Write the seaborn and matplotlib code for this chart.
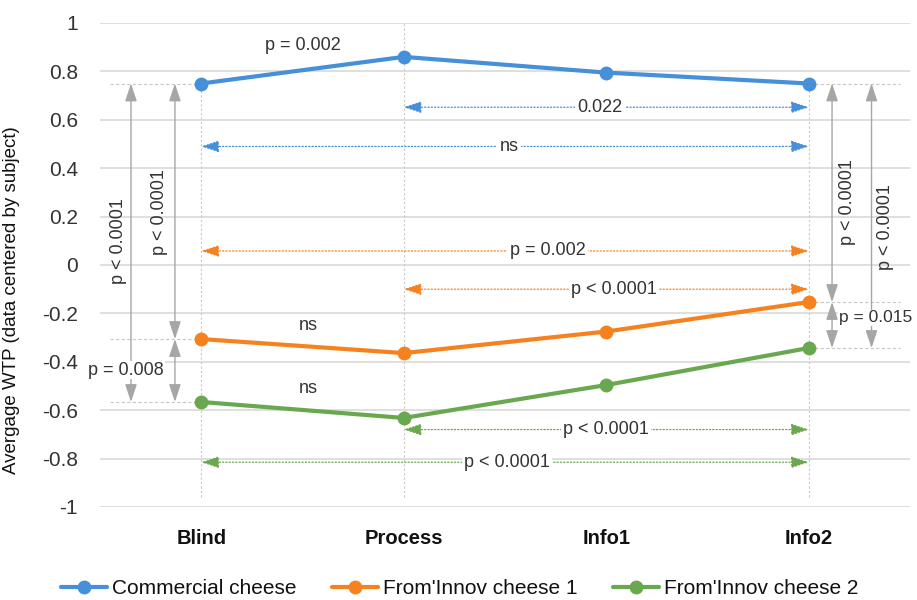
import matplotlib
matplotlib.use("Agg")
import matplotlib.pyplot as plt
import seaborn as sns
import pandas as pd

categories = ["Blind", "Process", "Info1", "Info2"]
commercial = [0.75, 0.86, 0.795, 0.75]
innov1 = [-0.306, -0.364, -0.275, -0.153]
innov2 = [-0.566, -0.632, -0.496, -0.343]
series_names = ["Commercial cheese", "From'Innov cheese 1", "From'Innov cheese 2"]
yticks = [1, 0.8, 0.6, 0.4, 0.2, 0, -0.2, -0.4, -0.6, -0.8, -1]
ytick_labels = ["1", "0.8", "0.6", "0.4", "0.2", "0", "-0.2", "-0.4", "-0.6", "-0.8", "-1"]

colors = ["#4590D8", "#F5821F", "#6AA84F"]
gray = "#A6A6A6"
tcol = "#333333"

rows = []
for name, vals in zip(series_names, [commercial, innov1, innov2]):
    for c, v in zip(categories, vals):
        rows.append({"Condition": c, "WTP": v, "Product": name})
df = pd.DataFrame(rows)

sns.set_theme(style="white")
plt.rcParams["font.family"] = ["Liberation Sans", "DejaVu Sans"]

fig = plt.figure(figsize=(9.17, 6.0), dpi=100)
ax = fig.add_axes([100 / 917, 1 - 507 / 600, 810 / 917, 484 / 600])

# gridlines
for t in yticks:
    ax.axhline(t, color="#D9D9D9", lw=1.2, zorder=0)

sns.lineplot(data=df, x="Condition", y="WTP", hue="Product", palette=colors,
             marker="o", markersize=10, markeredgewidth=0, linewidth=3,
             sort=False, ax=ax, zorder=5)

ax.set_xlim(-0.5, 3.5)
ax.set_ylim(-1, 1)
ax.set_yticks(yticks)
ax.set_yticklabels(ytick_labels, fontsize=15, color=tcol)
ax.tick_params(axis="y", pad=16, length=0)
ax.tick_params(axis="x", pad=16, length=0)
ax.set_xticks(range(len(categories)))
ax.set_xticklabels(categories, fontsize=14.5, fontweight="bold", color="#111111")
ax.set_xlabel("")
ax.set_ylabel("Avergage WTP (data centered by subject)", fontsize=13.5, color="#111111")
ax.yaxis.set_label_coords(20 / 917, 0.5, transform=fig.transFigure)
for s in ax.spines.values():
    s.set_visible(False)

# vertical dotted guides
guide = dict(color="#C8C8C8", lw=0.8, ls=(0, (2, 2)), zorder=1)
ax.vlines(0, -0.96, commercial[0], **guide)
ax.vlines(1, -0.96, 1.0, **guide)
ax.vlines(3, -0.96, commercial[3], **guide)

# horizontal dashed reference lines
ref = dict(color="#C8C8C8", lw=0.8, ls=(0, (3, 2)), zorder=1)
for v in [commercial[0], innov1[0], innov2[0]]:
    ax.hlines(v, -0.45, 0, **ref)
for v in [commercial[3], innov1[3], innov2[3]]:
    ax.hlines(v, 3, 3.45, **ref)


def harrow(x0, x1, y, color, label, lx):
    ax.annotate("", xy=(x0, y), xytext=(x1, y),
                arrowprops=dict(arrowstyle="<|-|>,head_length=0.9,head_width=0.3",
                                color=color, lw=0.9, ls=":", shrinkA=0, shrinkB=0),
                zorder=3)
    ax.text(lx, y, label, ha="center", va="center", fontsize=13, color=tcol,
            bbox=dict(facecolor="white", edgecolor="none", pad=1.5), zorder=4)


harrow(1, 3, 0.652, colors[0], "0.022", 1.97)
harrow(0, 3, 0.49, colors[0], "ns", 1.52)
harrow(0, 3, 0.058, colors[1], "p = 0.002", 1.71)
harrow(1, 3, -0.10, colors[1], "p < 0.0001", 2.04)
harrow(1, 3, -0.68, colors[2], "p < 0.0001", 2.0)
harrow(0, 3, -0.815, colors[2], "p < 0.0001", 1.51)


def varrow(x, y0, y1):
    ax.annotate("", xy=(x, y0), xytext=(x, y1),
                arrowprops=dict(arrowstyle="<|-|>,head_length=0.9,head_width=0.3",
                                color=gray, lw=1.0, shrinkA=0, shrinkB=0),
                zorder=3)


varrow(-0.347, commercial[0], innov2[0])
varrow(-0.13, commercial[0], innov1[0])
varrow(-0.13, innov1[0], innov2[0])
varrow(3.115, commercial[3], innov1[3])
varrow(3.31, commercial[3], innov2[3])
varrow(3.115, innov1[3], innov2[3])

txt = dict(fontsize=13, color=tcol)
ax.text(-0.41, 0.10, "p < 0.0001", rotation=90, ha="center", va="center", **txt)
ax.text(-0.204, 0.22, "p < 0.0001", rotation=90, ha="center", va="center", **txt)
ax.text(3.19, 0.26, "p < 0.0001", rotation=90, ha="center", va="center", **txt)
ax.text(3.38, 0.155, "p < 0.0001", rotation=90, ha="center", va="center", **txt)
ax.text(-0.37, -0.434, "p = 0.008", ha="center", va="center", zorder=4,
        bbox=dict(facecolor="white", edgecolor="none", pad=0.5), **txt)
ax.text(3.33, -0.218, "p = 0.015", ha="center", va="center", zorder=4,
        fontsize=12.5, color=tcol,
        bbox=dict(facecolor="white", edgecolor="none", pad=0.5))
ax.text(0.503, 0.909, "p = 0.002", ha="center", va="center", **txt)
ax.text(0.527, -0.248, "ns", ha="center", va="center", **txt)
ax.text(0.527, -0.512, "ns", ha="center", va="center", **txt)

# legend
handles, labels = ax.get_legend_handles_labels()
leg = ax.legend(handles, labels, loc="center", bbox_to_anchor=(460 / 917, 11 / 600),
                bbox_transform=fig.transFigure, ncol=3, frameon=False, fontsize=15,
                handlelength=2.2, columnspacing=1.7, handletextpad=0.25)
for t in leg.get_texts():
    t.set_color("#111111")

fig.savefig("out.png", dpi=100)
